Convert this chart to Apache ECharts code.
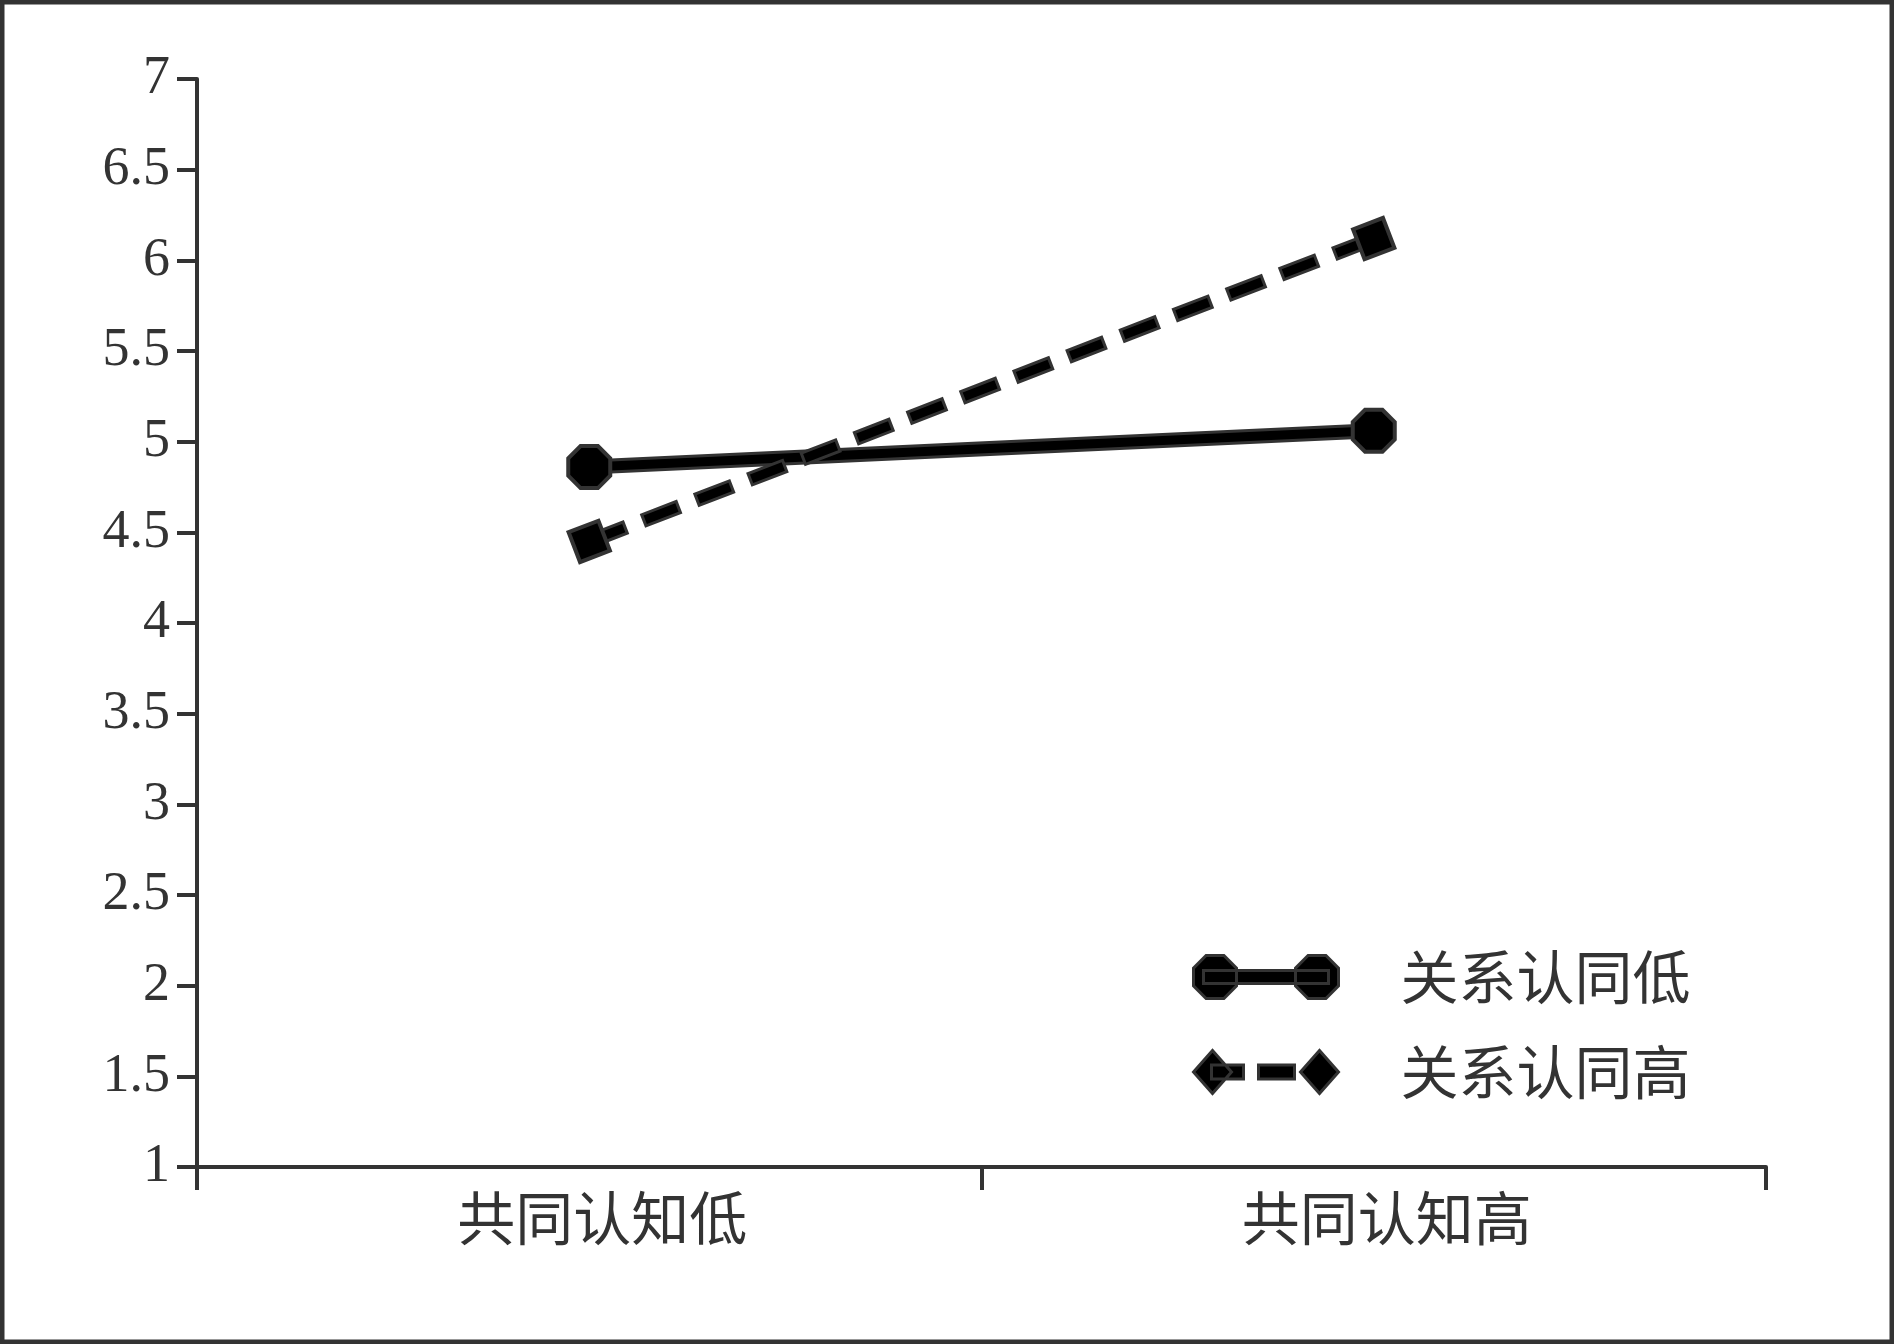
<!DOCTYPE html>
<html><head><meta charset="utf-8">
<script src="https://cdn.jsdelivr.net/npm/echarts@6/dist/echarts.min.js"></script>
<style>html,body{margin:0;padding:0;background:#fff}#c{width:1894px;height:1344px}</style>
</head><body><div id="c"></div>
<script>
const categories = ['共同认知低', '共同认知高'];
const seriesNames = ['关系认同低', '关系认同高'];
const lowIdentity = [4.86, 5.06];
const highIdentity = [4.45, 6.12];
const yMin = 1, yMax = 7, yStep = 0.5;

const octagon = 'path://M-8.28,-20 L8.28,-20 L20,-8.28 L20,8.28 L8.28,20 L-8.28,20 L-20,8.28 L-20,-8.28 Z';
function oct(cx, cy, r) {
  const s = r * 0.4142;
  return `M${cx-s},${cy-r} L${cx+s},${cy-r} L${cx+r},${cy-s} L${cx+r},${cy+s} L${cx+s},${cy+r} L${cx-s},${cy+r} L${cx-r},${cy+s} L${cx-r},${cy-s} Z `;
}
function rect(x1, y1, x2, y2) { return `M${x1},${y1} L${x2},${y1} L${x2},${y2} L${x1},${y2} Z `; }
function dia(cx, cy, hw, hh) { return `M${cx-hw},${cy} L${cx},${cy-hh} L${cx+hw},${cy} L${cx},${cy+hh} Z `; }
const iconLow = 'path://' + oct(21.5, 21.5, 21.5) + rect(10, 15, 135, 28) + oct(123.5, 21.5, 21.5);
const iconHigh = 'path://' + dia(19, 21.5, 19, 21.5) + rect(18, 14.5, 50, 28.5) + rect(65, 14.5, 101, 28.5) + dia(126, 21.5, 19, 21.5);

const chart = echarts.init(document.getElementById('c'), null, {renderer: 'canvas'});
const dark = '#333';
chart.setOption({
  animation: false,
  backgroundColor: '#fff',
  graphic: [{type: 'rect', silent: true, z: 100, shape: {x: 0, y: 0, width: 1894, height: 1344},
    style: {fill: 'none', stroke: dark, lineWidth: 9}}],
  grid: {left: 197, right: 128, top: 79, bottom: 177, containLabel: false},
  xAxis: {
    type: 'category', data: categories, boundaryGap: true,
    axisLine: {lineStyle: {color: dark, width: 4}},
    axisTick: {show: true, length: 23, lineStyle: {color: dark, width: 4}},
    axisLabel: {margin: 22, fontSize: 58, color: dark, fontFamily: '"Noto Sans CJK SC"', padding: [0, 0, 0, 26]}
  },
  yAxis: {
    type: 'value', min: yMin, max: yMax, interval: yStep,
    splitLine: {show: false},
    axisLine: {show: true, lineStyle: {color: dark, width: 4}},
    axisTick: {show: true, length: 20, lineStyle: {color: dark, width: 4}},
    axisLabel: {margin: 27, fontSize: 54, color: dark, fontFamily: '"Liberation Serif"'}
  },
  legend: {
    orient: 'vertical', left: 1192, top: 948, padding: 0, itemGap: 37,
    itemWidth: 145, itemHeight: 43, symbolKeepAspect: false,
    data: [{name: seriesNames[0], icon: iconLow}, {name: seriesNames[1], icon: iconHigh}],
    itemStyle: {color: '#000', borderColor: dark, borderWidth: 3},
    textStyle: {fontSize: 58, lineHeight: 58, color: dark, fontFamily: '"Noto Sans CJK SC"', padding: [0, 0, 0, 57]}
  },
  series: [
    {name: 'o1', type: 'line', data: lowIdentity, z: 2, symbol: 'none', silent: true,
      lineStyle: {color: dark, width: 15}},
    {name: seriesNames[0], type: 'line', data: lowIdentity, z: 3, symbol: octagon, symbolSize: 42,
      itemStyle: {color: '#000', borderColor: dark, borderWidth: 4},
      lineStyle: {color: '#000', width: 9}},
    {name: 'o2', type: 'line', data: highIdentity, z: 4, symbol: 'none', silent: true,
      lineStyle: {color: dark, width: 15, type: [40, 17]}},
    {name: seriesNames[1], type: 'line', data: highIdentity, z: 5, symbol: 'rect', symbolSize: 32, symbolRotate: 21,
      itemStyle: {color: '#000', borderColor: dark, borderWidth: 4},
      lineStyle: {color: '#000', width: 9, type: [34, 23], dashOffset: -3}}
  ]
});
</script></body></html>
